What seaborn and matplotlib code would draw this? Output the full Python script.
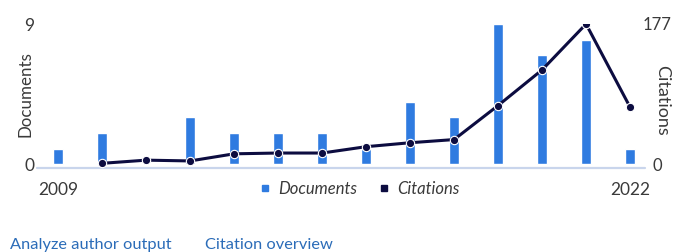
import matplotlib
matplotlib.use("Agg")
import matplotlib.pyplot as plt
from matplotlib.lines import Line2D
import numpy as np
import pandas as pd
import seaborn as sns

# values
years = list(range(2009, 2023))
documents = [1, 2, 0, 3, 2, 2, 2, 1, 4, 3, 9, 7, 8, 1]
citations = [np.nan, 1, 5, 4, 13, 14, 14, 22, 27, 31, 74, 119, 177, 72]
doc_ticks = [0, 9]
cit_ticks = [0, 177]
edge_years = ["2009", "2022"]

BAR_BLUE = "#2f7be0"
NAVY = "#0c0c40"
TEXT = "#3a3a3a"
LINK = "#2b6cb8"

sns.set_theme(style="white")
plt.rcParams["font.family"] = ["Lato", "DejaVu Sans"]

df = pd.DataFrame({"year": [str(y) for y in years],
                   "documents": documents,
                   "citations": citations})
df["pos"] = np.arange(len(df))

fig = plt.figure(figsize=(6.73, 2.52), dpi=100)
ax = fig.add_axes([37 / 673, (252 - 168) / 252, (645 - 37) / 673, 144 / 252])

sns.barplot(data=df, x="year", y="documents", color=BAR_BLUE, width=0.23,
            saturation=1, ax=ax, order=df["year"])
ax.set_xlim(-0.48, 13.34)
ax.set_ylim(-0.25, 9)

ax2 = ax.twinx()
sns.lineplot(data=df, x="pos", y="citations", color=NAVY, lw=2.2,
             marker="o", markersize=6, markeredgecolor="white",
             markeredgewidth=0.8, ax=ax2)
ax2.set_ylim(-177 * 0.25 / 9, 177)
ax2.set_xlim(-0.48, 13.34)

for a in (ax, ax2):
    for s in a.spines.values():
        s.set_visible(False)
    a.set_xlabel("")
    a.set_ylabel("")
    a.tick_params(length=0)

ax.axhline(-0.25, color="#c9d5ec", lw=1.6, clip_on=False)

ax.set_yticks(doc_ticks)
ax.set_yticklabels([str(t) for t in doc_ticks], fontsize=12.5, color=TEXT)
ax.tick_params(axis="y", pad=2)
ax2.set_yticks(cit_ticks)
ax2.set_yticklabels([str(t) for t in cit_ticks], fontsize=12, color=TEXT)
ax2.tick_params(axis="y", pad=9)
for lab in ax2.get_yticklabels():
    lab.set_horizontalalignment("center")

ax.set_xticks([0, len(years) - 1])
ax.set_xticklabels(edge_years, fontsize=12.5, color=TEXT)
ax.tick_params(axis="x", pad=10)

fig.text(25 / 673, 1 - 94 / 252, "Documents", rotation=90, ha="center",
         va="center", fontsize=12.2, color=TEXT)
fig.text(662 / 673, 1 - 100 / 252, "Citations", rotation=270, ha="center",
         va="center", fontsize=13, color=TEXT)

handles = [Line2D([], [], ls="none", marker="s", markersize=5, color=BAR_BLUE),
           Line2D([], [], ls="none", marker="s", markersize=5, color=NAVY)]
fig.legend(handles, ["Documents", "Citations"], loc="center",
           bbox_to_anchor=(357 / 673, 1 - 189 / 252), ncol=2, frameon=False,
           prop={"style": "italic", "size": 12}, handletextpad=0.2,
           handlelength=1.2, columnspacing=1.0, labelcolor=TEXT)

fig.text(10 / 673, 1 - 245 / 252, "Analyze author output", fontsize=11.8,
         color=LINK, va="center")
fig.text(205 / 673, 1 - 245 / 252, "Citation overview", fontsize=11.8,
         color=LINK, va="center")

fig.savefig("out.png", dpi=100)
